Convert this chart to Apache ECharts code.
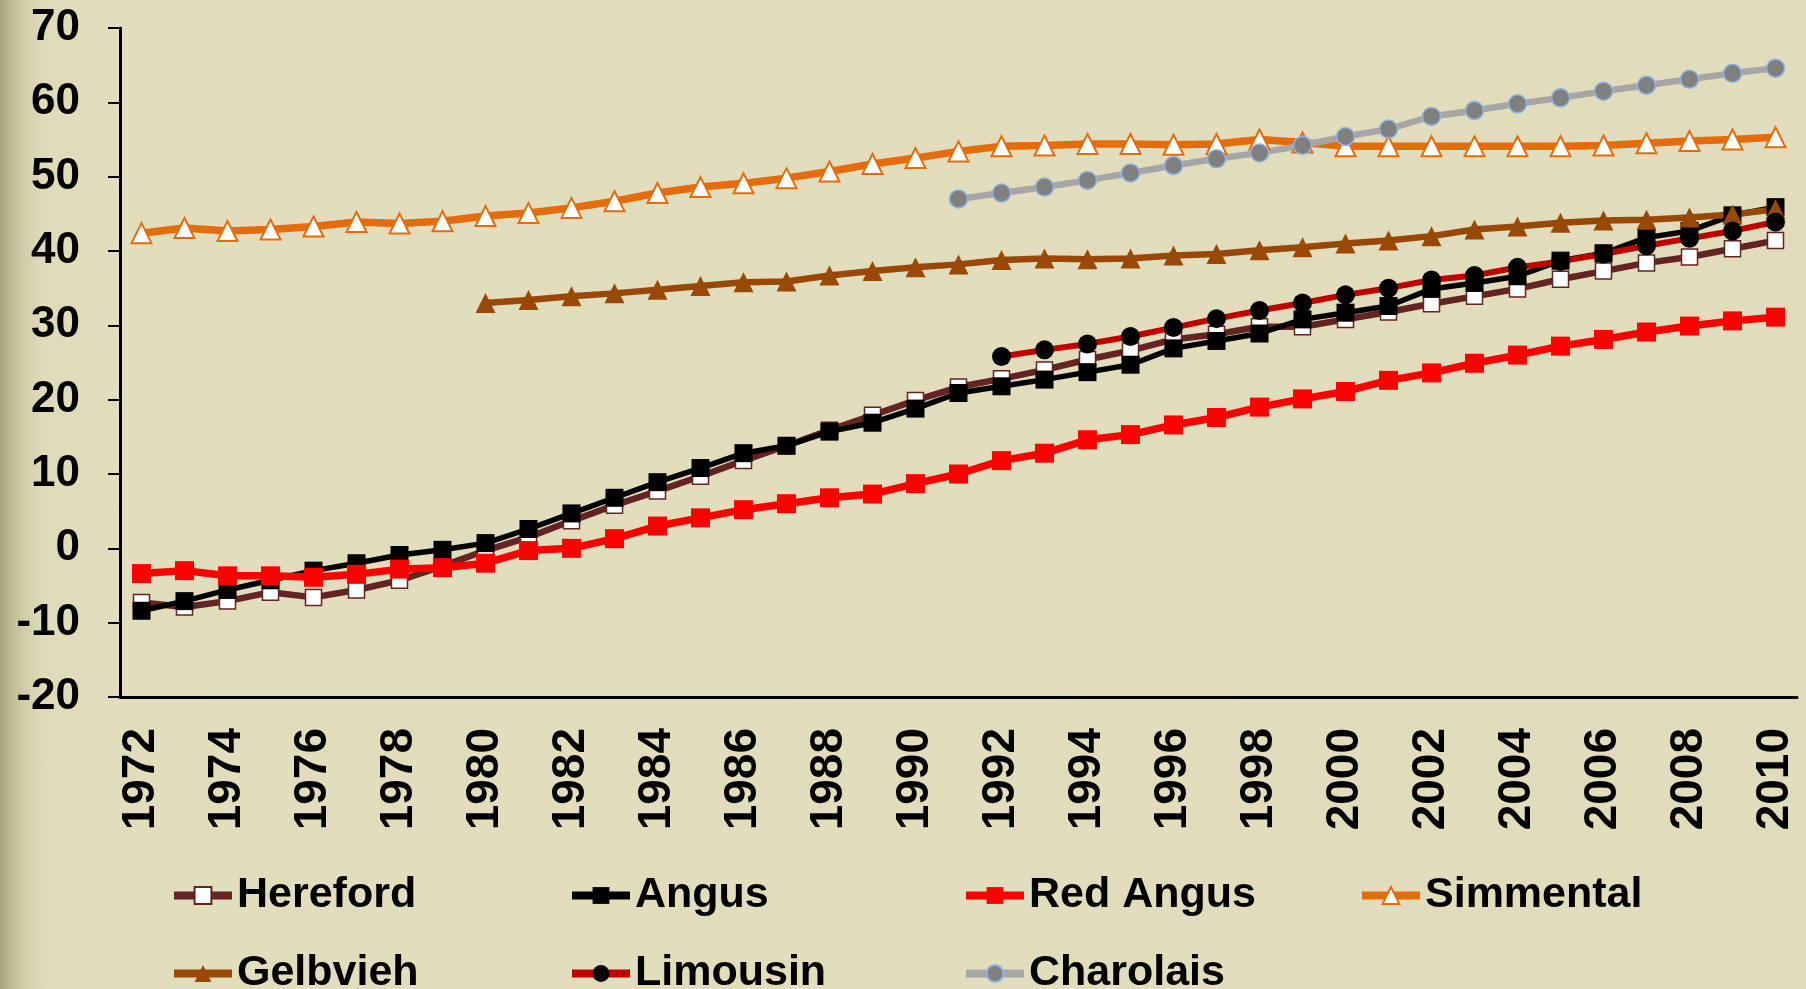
<!DOCTYPE html>
<html>
<head>
<meta charset="utf-8">
<script src="https://cdn.jsdelivr.net/npm/echarts@6/dist/echarts.min.js"></script>
<style>
  html, body { margin: 0; padding: 0; }
  body {
    width: 1806px; height: 989px; overflow: hidden;
    background: linear-gradient(to right, #a9a37f 0px, #bdb792 10px, #d2cda9 24px, #dfdab8 42px, #e2ddbd 120px, #e1dcbb 100%);
  }
  #main { width: 1806px; height: 989px; }
</style>
</head>
<body>
<div id="main"></div>
<script>
// years on the x axis
const years = ['1972', '1973', '1974', '1975', '1976', '1977', '1978', '1979', '1980', '1981',
    '1982', '1983', '1984', '1985', '1986', '1987', '1988', '1989', '1990', '1991',
    '1992', '1993', '1994', '1995', '1996', '1997', '1998', '1999', '2000', '2001',
    '2002', '2003', '2004', '2005', '2006', '2007', '2008', '2009', '2010'];

const hereford = [-7.3, -7.9, -7.1, -5.9, -6.6, -5.6, -4.3, -2.4, -0.3, 1.5,
    3.7, 5.8, 7.7, 9.7, 11.8, 13.8, 15.9, 17.9, 19.9, 21.7,
    22.8, 24.0, 25.4, 26.6, 28.1, 28.8, 29.8, 29.8, 30.8, 31.8,
    32.9, 33.9, 34.9, 36.2, 37.3, 38.4, 39.2, 40.3, 41.4];
const angus = [-8.4, -7.1, -5.6, -4.3, -3.0, -2.0, -0.9, -0.2, 0.7, 2.6,
    4.7, 6.8, 8.9, 10.8, 12.8, 13.8, 15.7, 16.9, 18.8, 20.9,
    21.8, 22.7, 23.7, 24.7, 26.9, 27.9, 28.9, 30.8, 31.7, 32.6,
    34.9, 35.7, 36.6, 38.7, 39.7, 41.8, 42.7, 44.8, 45.9];
const redAngus = [-3.4, -3.0, -3.7, -3.7, -3.9, -3.5, -2.8, -2.6, -2.0, -0.3,
    0.0, 1.3, 3.0, 4.1, 5.2, 6.0, 6.8, 7.3, 8.7, 10.0,
    11.8, 12.8, 14.6, 15.3, 16.6, 17.6, 19.0, 20.1, 21.1, 22.6,
    23.6, 24.9, 26.0, 27.2, 28.1, 29.1, 29.9, 30.6, 31.1];
const simmental = [42.4, 43.1, 42.7, 42.9, 43.3, 43.9, 43.7, 44.0, 44.7, 45.1,
    45.8, 46.7, 47.8, 48.6, 49.1, 49.8, 50.7, 51.7, 52.5, 53.4,
    54.1, 54.2, 54.4, 54.4, 54.3, 54.4, 55.0, 54.6, 54.1, 54.1,
    54.1, 54.1, 54.1, 54.1, 54.2, 54.5, 54.8, 55.0, 55.3];
const gelbvieh = [null, null, null, null, null, null, null, null, 33.0, 33.4,
    33.9, 34.3, 34.8, 35.3, 35.8, 35.9, 36.7, 37.3, 37.8, 38.2,
    38.8, 39.0, 38.9, 39.0, 39.4, 39.6, 40.1, 40.5, 41.0, 41.4,
    42.0, 42.9, 43.3, 43.8, 44.1, 44.2, 44.5, 44.9, 45.6];
const limousin = [null, null, null, null, null, null, null, null, null, null,
    null, null, null, null, null, null, null, null, null, null,
    25.8, 26.7, 27.5, 28.5, 29.7, 30.9, 32.0, 33.0, 34.1, 35.0,
    36.1, 36.7, 37.8, 38.6, 39.6, 40.7, 41.7, 42.7, 43.9];
const charolais = [null, null, null, null, null, null, null, null, null, null,
    null, null, null, null, null, null, null, null, null, 47.0,
    47.8, 48.6, 49.5, 50.5, 51.5, 52.4, 53.2, 54.2, 55.4, 56.4,
    58.1, 58.9, 59.8, 60.6, 61.5, 62.3, 63.1, 63.9, 64.6];

const breeds = ['Hereford', 'Angus', 'Red Angus', 'Simmental', 'Gelbvieh', 'Limousin', 'Charolais'];

const font = 'Arial, "Liberation Sans", Helvetica, sans-serif';

const myChart = echarts.init(document.getElementById('main'));

function line(name, data, lineColor, lineWidth, symbol, size, fill, border, borderWidth) {
    return {
        name: name,
        type: 'line',
        data: data,
        symbol: symbol,
        symbolSize: size,
        showAllSymbol: true,
        connectNulls: false,
        clip: false,
        lineStyle: { color: lineColor, width: lineWidth },
        itemStyle: { color: fill, borderColor: border, borderWidth: borderWidth }
    };
}

// legend: one block per item so they sit in columns like the original
const legendCols = [170, 568, 962, 1358];
const legendRows = [874, 952];
const legends = breeds.map(function (b, i) {
    return {
        data: [b],
        left: legendCols[i % 4],
        top: legendRows[Math.floor(i / 4)],
        padding: 0,
        itemWidth: 58,
        itemHeight: 21,
        selectedMode: false,
        lineStyle: { width: 8 },
        textStyle: { fontFamily: font, fontWeight: 'bold', fontSize: 43, color: '#000' }
    };
});

const option = {
    backgroundColor: 'transparent',
    animation: false,
    grid: { left: 120, right: 9, top: 28, bottom: 292, containLabel: false },
    legend: legends,
    xAxis: {
        type: 'category',
        data: years,
        boundaryGap: true,
        axisLine: { onZero: false, lineStyle: { color: '#000', width: 3 } },
        axisTick: { interval: 0, length: 11, lineStyle: { color: '#000', width: 1.5 } },
        axisLabel: {
            interval: 1,
            rotate: 90,
            margin: 31,
            fontFamily: font,
            fontWeight: 'bold',
            fontSize: 46,
            color: '#000'
        },
        splitLine: { show: false }
    },
    yAxis: {
        type: 'value',
        min: -20,
        max: 70,
        interval: 10,
        axisLine: { show: true, lineStyle: { color: '#000', width: 3 } },
        axisTick: { show: true, length: 12, lineStyle: { color: '#000', width: 2 } },
        axisLabel: {
            margin: 40,
            fontFamily: font,
            fontWeight: 'bold',
            fontSize: 44,
            color: '#000'
        },
        splitLine: { show: false }
    },
    series: [
        line('Hereford', hereford, '#632423', 6.5, 'rect', 16, '#ffffff', '#632423', 1.5),
        line('Angus', angus, '#000000', 5.5, 'rect', 18, '#000000', '#000000', 0),
        line('Red Angus', redAngus, '#ff0000', 7.5, 'rect', 19, '#ff0000', '#ff0000', 0),
        line('Simmental', simmental, '#e46c0a', 7.5, 'triangle', 20, '#ffffff', '#e46c0a', 2),
        line('Gelbvieh', gelbvieh, '#984807', 6.5, 'triangle', 20, '#984807', '#984807', 0),
        line('Limousin', limousin, '#c00000', 6, 'circle', 19, '#000000', '#000000', 0),
        line('Charolais', charolais, '#a6a6a6', 6.5, 'circle', 18, '#808080', '#8eb4e3', 1.5)
    ]
};

myChart.setOption(option);
</script>
</body>
</html>
